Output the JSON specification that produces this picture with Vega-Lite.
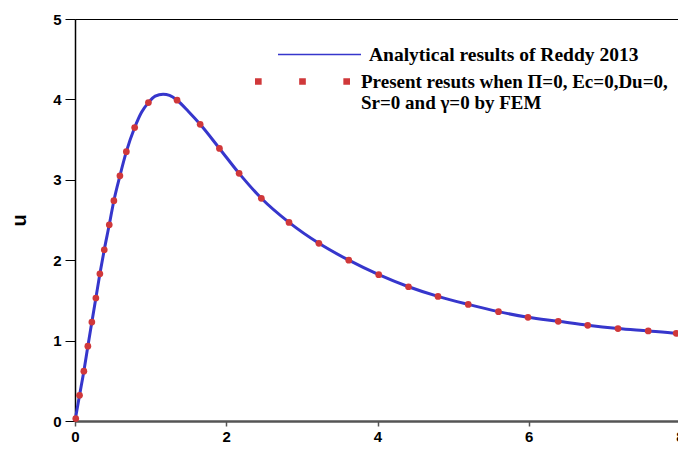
{
  "$schema": "https://vega.github.io/schema/vega-lite/v6.json",
  "width": 605,
  "height": 402,
  "autosize": {"type": "none"},
  "padding": {"left": 75, "top": 19, "right": 0, "bottom": 30},
  "background": "white",
  "config": {
    "view": {"stroke": "black", "strokeWidth": 1},
    "font": "Liberation Sans"
  },
  "datasets": {
    "curve": [
      {"y": 0, "u": 0}, {"y": 0.06, "u": 0.32}, {"y": 0.117, "u": 0.62}, {"y": 0.17, "u": 0.93},
      {"y": 0.223, "u": 1.23}, {"y": 0.276, "u": 1.53}, {"y": 0.329, "u": 1.83}, {"y": 0.387, "u": 2.13},
      {"y": 0.453, "u": 2.44}, {"y": 0.514, "u": 2.74}, {"y": 0.594, "u": 3.05}, {"y": 0.679, "u": 3.35},
      {"y": 0.789, "u": 3.65}, {"y": 0.88, "u": 3.84}, {"y": 0.971, "u": 3.96}, {"y": 1.06, "u": 4.04},
      {"y": 1.165, "u": 4.065}, {"y": 1.25, "u": 4.05}, {"y": 1.35, "u": 3.99}, {"y": 1.5, "u": 3.85},
      {"y": 1.655, "u": 3.69}, {"y": 1.91, "u": 3.39}, {"y": 2.17, "u": 3.08}, {"y": 2.464, "u": 2.77},
      {"y": 2.83, "u": 2.47}, {"y": 3.225, "u": 2.21}, {"y": 3.62, "u": 2.0}, {"y": 4.016, "u": 1.82},
      {"y": 4.41, "u": 1.67}, {"y": 4.8, "u": 1.55}, {"y": 5.2, "u": 1.45}, {"y": 5.6, "u": 1.36},
      {"y": 5.99, "u": 1.29}, {"y": 6.39, "u": 1.24}, {"y": 6.78, "u": 1.19}, {"y": 7.18, "u": 1.15},
      {"y": 7.58, "u": 1.12}, {"y": 7.95, "u": 1.09}, {"y": 8.0, "u": 1.085}
    ],
    "fem": [
      {"y": 0.01, "u": 0.03}, {"y": 0.06, "u": 0.32}, {"y": 0.117, "u": 0.62}, {"y": 0.17, "u": 0.93},
      {"y": 0.223, "u": 1.23}, {"y": 0.276, "u": 1.53}, {"y": 0.329, "u": 1.83}, {"y": 0.387, "u": 2.13},
      {"y": 0.453, "u": 2.44}, {"y": 0.514, "u": 2.74}, {"y": 0.594, "u": 3.05}, {"y": 0.679, "u": 3.35},
      {"y": 0.789, "u": 3.65}, {"y": 0.971, "u": 3.96}, {"y": 1.35, "u": 3.99}, {"y": 1.655, "u": 3.69},
      {"y": 1.91, "u": 3.39}, {"y": 2.17, "u": 3.08}, {"y": 2.464, "u": 2.77}, {"y": 2.83, "u": 2.47},
      {"y": 3.225, "u": 2.21}, {"y": 3.62, "u": 2.0}, {"y": 4.016, "u": 1.82}, {"y": 4.41, "u": 1.67},
      {"y": 4.8, "u": 1.55}, {"y": 5.2, "u": 1.45}, {"y": 5.6, "u": 1.36}, {"y": 5.99, "u": 1.29},
      {"y": 6.39, "u": 1.24}, {"y": 6.78, "u": 1.19}, {"y": 7.18, "u": 1.15}, {"y": 7.58, "u": 1.12},
      {"y": 7.95, "u": 1.09}
    ]
  },
  "encoding": {
    "x": {
      "field": "y", "type": "quantitative",
      "scale": {"domain": [0, 8], "nice": false, "zero": false},
      "axis": {
        "title": "y", "values": [0, 2, 4, 6, 8], "grid": false,
        "domainColor": "#555555", "domainWidth": 2.5,
        "tickColor": "#555555", "tickSize": 5, "tickWidth": 1.5,
        "labelFont": "Liberation Sans", "labelFontWeight": "bold", "labelFontSize": 15, "labelColor": "black",
        "labelPadding": 3, "labelFlush": false,
        "titleFont": "Liberation Sans", "titleFontWeight": "bold", "titleFontSize": 19, "titleColor": "black", "titlePadding": 8
      }
    },
    "y": {
      "field": "u", "type": "quantitative",
      "scale": {"domain": [0, 5], "nice": false},
      "axis": {
        "title": "u", "values": [0, 1, 2, 3, 4, 5], "grid": false,
        "domainColor": "black", "domainWidth": 1.5,
        "tickColor": "black", "tickSize": 10, "tickWidth": 1,
        "labelFont": "Liberation Sans", "labelFontWeight": "bold", "labelFontSize": 15, "labelColor": "black",
        "labelPadding": 4,
        "titleFont": "Liberation Sans", "titleFontWeight": "bold", "titleFontSize": 20, "titleColor": "black", "titlePadding": 23
      }
    }
  },
  "layer": [
    {
      "data": {"name": "curve"},
      "mark": {"type": "line", "interpolate": "monotone", "strokeWidth": 3},
      "encoding": {
        "stroke": {
          "datum": "Analytical results of Reddy 2013",
          "scale": {"domain": ["Analytical results of Reddy 2013"], "range": ["#3636cc"]},
          "legend": {
            "title": null, "orient": "none", "legendX": 202, "legendY": -7, "padding": 0,
            "symbolType": "stroke", "symbolSize": 6889, "symbolStrokeWidth": 1.5, "symbolStrokeColor": "#2b2bb0",
            "labelFont": "Liberation Serif", "labelFontWeight": "bold", "labelFontSize": 19.5, "labelColor": "black",
            "labelOffset": 7, "labelLimit": 400
          }
        }
      }
    },
    {
      "data": {"name": "fem"},
      "mark": {"type": "point", "filled": true, "size": 45, "opacity": 1, "shape": "circle"},
      "encoding": {
        "fill": {
          "datum": "Present resuts when Π=0, Ec=0,Du=0,|Sr=0 and γ=0 by FEM",
          "scale": {"domain": ["Present resuts when Π=0, Ec=0,Du=0,|Sr=0 and γ=0 by FEM"], "range": ["#d0383a"]},
          "legend": {
            "title": null, "orient": "none", "legendX": 180, "legendY": 15, "padding": 0,
            "symbolType": "M-1,-0.07H-0.86V0.07H-1Z M-0.07,-0.07H0.07V0.07H-0.07Z M0.86,-0.07H1V0.07H0.86Z",
            "symbolSize": 9025, "symbolStrokeWidth": 0, "symbolFillColor": "#c83c3c",
            "labelExpr": "split(datum.label, '|')",
            "labelFont": "Liberation Serif", "labelFontWeight": "bold", "labelFontSize": 19, "labelColor": "black",
            "labelOffset": 11, "labelLimit": 400, "labelBaseline": "middle"
          }
        }
      }
    }
  ]
}
